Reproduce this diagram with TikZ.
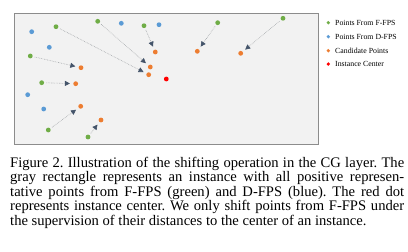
\documentclass[tikz,border=0pt]{standalone}
\usepackage{fontspec}
\setmainfont{Liberation Serif}
\usetikzlibrary{arrows.meta}
\definecolor{gpt}{HTML}{70AD47}
\definecolor{bpt}{HTML}{5B9BD5}
\definecolor{opt}{HTML}{ED7D31}
\definecolor{rpt}{HTML}{FF0000}
\definecolor{boxfill}{HTML}{F2F2F2}
\definecolor{boxline}{HTML}{8C8C8C}
\definecolor{headcol}{HTML}{44546A}
\definecolor{dotline}{HTML}{A0A4A8}
\tikzset{
  pt/.style={circle,inner sep=0pt,minimum size=4.8pt},
  gp/.style={pt,fill=gpt},
  bp/.style={pt,fill=bpt},
  op/.style={pt,fill=opt},
  rp/.style={pt,fill=rpt},
  lg/.style={circle,inner sep=0pt,minimum size=3.6pt},
  lgtext/.style={anchor=west,inner sep=0pt,font=\fontsize{7.8}{9}\selectfont},
  shiftarrow/.style={draw=dotline,densely dotted,line width=0.6pt,
    -{Triangle[length=5pt,width=5pt,color=headcol]},shorten >=3.2pt,shorten <=2pt},
}
\begin{document}
\begin{tikzpicture}[x=1pt,y=-1pt]
\useasboundingbox (0,0) rectangle (408,252);
\fill[white] (0,0) rectangle (408,252);
\draw[boxline,fill=boxfill,line width=0.8pt] (14.7,13.3) rectangle (318.3,144.3);
% green
\node[gp] (g1) at (56,26.7) {};
\node[gp] (g2) at (97.7,21.3) {};
\node[gp] (g3) at (144,25.7) {};
\node[gp] (g4) at (217.7,22.7) {};
\node[gp] (g5) at (283,18.3) {};
\node[gp] (g6) at (30.3,56) {};
\node[gp] (g7) at (41.7,82.7) {};
\node[gp] (g8) at (48.3,130) {};
\node[gp] (g9) at (88,137) {};
% blue
\node[bp] (b1) at (31.7,31.7) {};
\node[bp] (b2) at (121.3,23.3) {};
\node[bp] (b3) at (159,24.7) {};
\node[bp] (b4) at (49.3,47.3) {};
\node[bp] (b5) at (27.7,94.7) {};
\node[bp] (b6) at (43.7,109) {};
% orange
\node[op] (o1) at (148.7,74.7) {};
\node[op] (o2) at (150.3,67) {};
\node[op] (o3) at (155.3,52) {};
\node[op] (o4) at (197.3,51.3) {};
\node[op] (o5) at (240.7,53.3) {};
\node[op] (o6) at (81,67.7) {};
\node[op] (o7) at (75.7,83.7) {};
\node[op] (o8) at (80.7,106.3) {};
\node[op] (o9) at (101,120) {};
% red
\node[rp] (r) at (166.3,79) {};
% arrows
\foreach \i in {1,...,9} \draw[shiftarrow] (g\i) -- (o\i);
% legend
\node[lg,fill=gpt] (l1) at (328.3,22.7) {};
\node[lg,fill=bpt] (l2) at (328.3,36.7) {};
\node[lg,fill=opt] (l3) at (328.3,50.7) {};
\node[lg,fill=rpt] (l4) at (328.3,64) {};
\node[lgtext] (t1) at (335,22.5) {Points From F-FPS};
\node[lgtext] (t2) at (335,36.5) {Points From D-FPS};
\node[lgtext] (t3) at (335,50.5) {Candidate Points};
\node[lgtext] (t4) at (335,63.8) {Instance Center};
% caption
\node[anchor=base west,inner sep=0pt] (cap) at (10,167.5) {\parbox[t]{394pt}{\fontsize{14.6}{14.4}\selectfont\frenchspacing\emergencystretch=3em\hyphenpenalty=10000
Figure 2. Illustration of the shifting operation in the CG layer. The\linebreak
gray rectangle represents an instance with all positive represen-\linebreak
tative points from F-FPS (green) and D-FPS (blue). The red dot\linebreak
represents instance center. We only shift points from F-FPS under\linebreak
the supervision of their distances to the center of an instance.}};
\end{tikzpicture}
\end{document}
